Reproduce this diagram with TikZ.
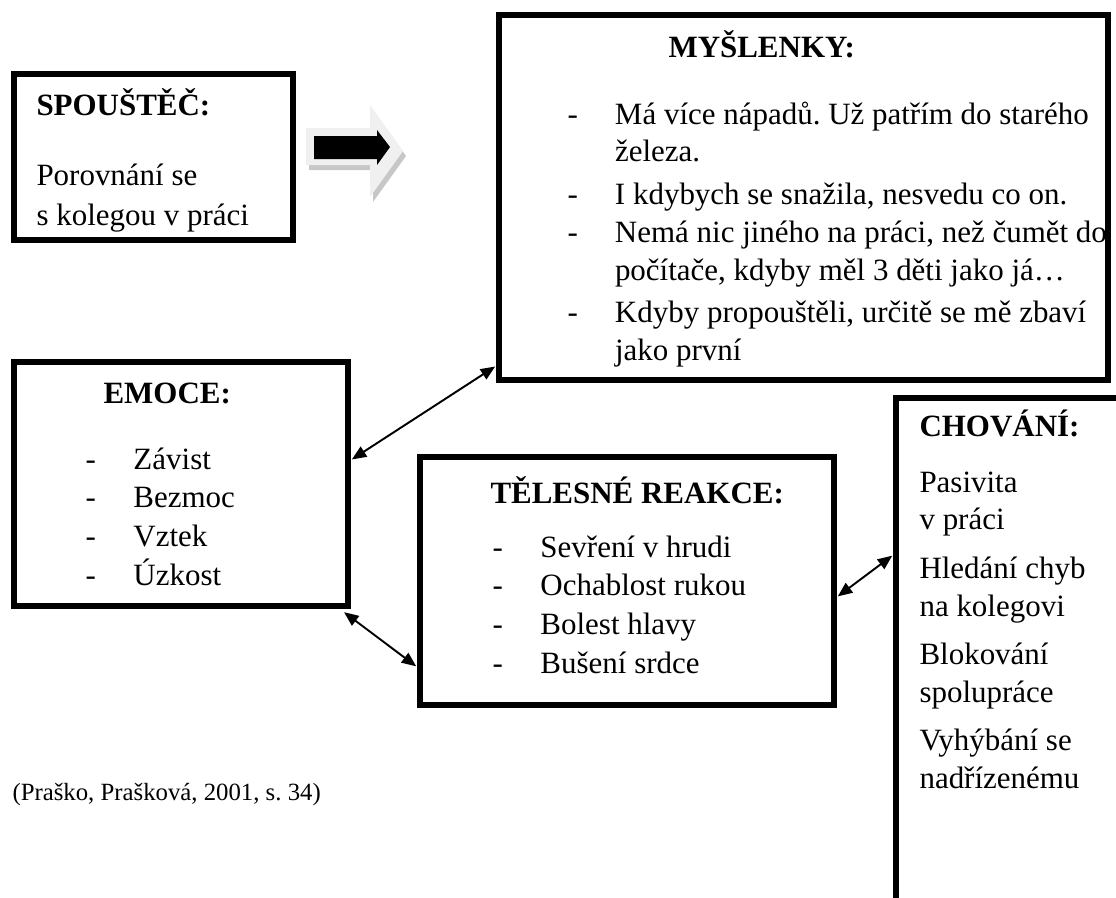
\documentclass[tikz,border=0pt]{standalone}
\usepackage{fontspec}
\setmainfont{Liberation Serif}
\usepackage{tikz}
\usetikzlibrary{arrows.meta,fit}
\colorlet{arrowFace}{black!6}
\colorlet{arrowShade}{black!22}
\frenchspacing
\tikzset{
  >=Latex,
  % thick framed panels of the cognitive model
  panel/.style={
    draw=black,
    line width=2.3pt,
    fill=white,
    inner sep=0pt
  },
  head/.style={
    anchor=base west,
    inner sep=0pt,
    font=\fontsize{12}{14.7}\selectfont\bfseries
  },
  body/.style={
    anchor=base west,
    inner sep=0pt,
    align=left,
    font=\fontsize{12}{14.7}\selectfont
  },
  link/.style={
    {Triangle[length=5.6pt,width=4.6pt]}-{Triangle[length=5.6pt,width=4.6pt]},
    line width=0.75pt,
    draw=black,
    shorten <=0.4pt,
    shorten >=0.4pt
  }
}

\begin{document}
\begin{tikzpicture}[x=0.3875pt,y=-0.3875pt]
\useasboundingbox (0,0) rectangle (1116,897);

% panels
\node[panel, fit={(14,74) (293,240)}] (trigger) {};
\node[panel, fit={(499,15) (1108,380)}] (thoughts) {};
\node[panel, fit={(14,362) (348,606)}] (emotions) {};
\node[panel, fit={(420,457) (834,705)}] (bodily) {};
\node[panel, fit={(896,398) (1125,930)}] (actions) {};

% block arrow from trigger to thoughts
\fill[arrowShade] (309,133) -- (373,133) -- (373,110) -- (406,156) -- (373,202) -- (373,170) -- (309,170) -- cycle;
\fill[arrowFace] (306,128) -- (370,128) -- (370,105) -- (403,151) -- (370,197) -- (370,165) -- (306,165) -- cycle;
\fill[black] (314,136) -- (377,136) -- (377,130) -- (390,147) -- (377,165) -- (377,159) -- (314,159) -- cycle;

% trigger
\node[head] (triggerHead) at (36,115) {SPOUŠTĚČ:};
\node[body] (triggerText) at (36,185)
{\begin{tabular}[t]{@{}l@{}}
Porovnání se\\[0.8pt]
s kolegou v práci
\end{tabular}};

% thoughts
\node[head] (thoughtsHead) at (668,57) {MYŠLENKY:};
\node[body] (thoughtsText) at (567,124)
{\begin{tabular}[t]{@{}p{18.4pt}@{}l@{}}
- & Má více nápadů. Už patřím do starého\\
  & železa.\\[1.8pt]
- & I kdybych se snažila, nesvedu co on.\\[0.2pt]
- & Nemá nic jiného na práci, než čumět do\\
  & počítače, kdyby měl 3 děti jako já…\\[1.6pt]
- & Kdyby propouštěli, určitě se mě zbaví\\
  & jako první
\end{tabular}};

% emotions
\node[head] (emotionsHead) at (103,403) {EMOCE:};
\node[body] (emotionsText) at (85,469)
{\begin{tabular}[t]{@{}p{18.6pt}@{}l@{}}
- & Závist\\[0.4pt]
- & Bezmoc\\[0.4pt]
- & Vztek\\[0.4pt]
- & Úzkost
\end{tabular}};

% bodily reactions
\node[head] (bodilyHead) at (490,503) {TĚLESNÉ REAKCE:};
\node[body] (bodilyText) at (492,557)
{\begin{tabular}[t]{@{}p{18.6pt}@{}l@{}}
- & Sevření v hrudi\\[0.4pt]
- & Ochablost rukou\\[0.4pt]
- & Bolest hlavy\\[0.4pt]
- & Bušení srdce
\end{tabular}};

% behaviour
\node[head] (actionsHead) at (919,436) {CHOVÁNÍ:};
\node[body] (actionsText) at (919,492)
{\begin{tabular}[t]{@{}l@{}}
Pasivita\\
v práci\\[4pt]
Hledání chyb\\
na kolegovi\\[4pt]
Blokování\\
spolupráce\\[4pt]
Vyhýbání se\\
nadřízenému
\end{tabular}};

% source
\node[body, font=\fontsize{9.6}{11}\selectfont] (source) at (12,800) {(Praško, Prašková, 2001, s. 34)};

% connectors
\draw[link] ([yshift=9.3pt]emotions.east) -- ([yshift=6.6pt]thoughts.south west);
\draw[link] ([xshift=-3pt,yshift=-1pt]emotions.south east) -- ([yshift=-33.3pt]bodily.west);
\draw[link] ([yshift=-6.2pt]bodily.east) -- ([yshift=-62pt]actions.north west);

\end{tikzpicture}
\end{document}
